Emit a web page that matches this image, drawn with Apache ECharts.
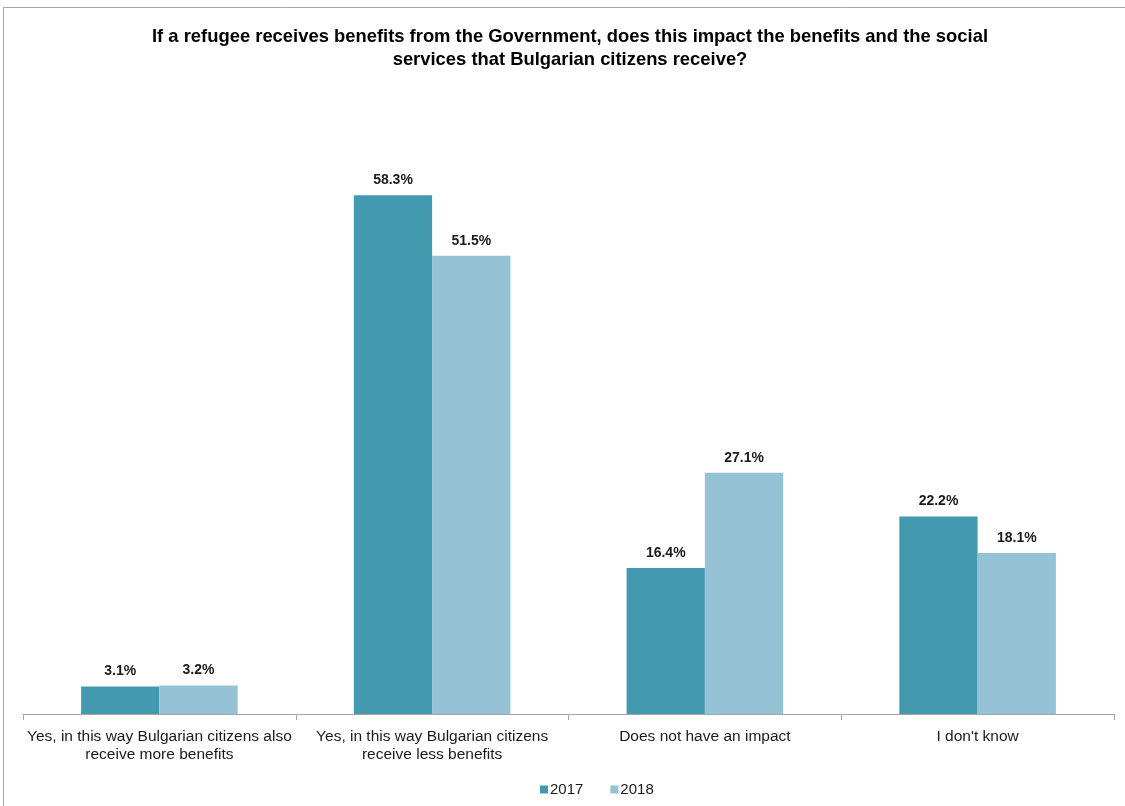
<!DOCTYPE html>
<html><head><meta charset="utf-8">
<script src="https://cdn.jsdelivr.net/npm/echarts@6/dist/echarts.min.js"></script>
<style>html,body{margin:0;padding:0;background:#fff}#c{width:1125px;height:806px}</style>
</head><body><div id="c"></div>
<script>
const categories = ["Yes, in this way Bulgarian citizens also\nreceive more benefits","Yes, in this way Bulgarian citizens\nreceive less benefits","Does not have an impact","I don't know"];
const values2017 = [3.1, 58.3, 16.4, 22.2];
const values2018 = [3.2, 51.5, 27.1, 18.1];
const seriesNames = ["2017","2018"];
const FONT = '"Liberation Sans", Arial, sans-serif';
const chart = echarts.init(document.getElementById('c'));
const lbl = {show:true, position:'top', distance:8, formatter: p => p.value.toFixed(1)+'%', fontFamily:FONT, fontWeight:'bold', fontSize:14, color:'#1a1a1a'};
chart.setOption({
  animation:false,
  backgroundColor:'#fff',
  title:{text:"If a refugee receives benefits from the Government, does this impact the benefits and the social\nservices that Bulgarian citizens receive?", left:565, textAlign:'center', top:20,
    textStyle:{fontFamily:FONT, fontWeight:'bold', fontSize:18.4, lineHeight:23, color:'#000'}},
  graphic:[
    {type:'line', shape:{x1:3,y1:7.5,x2:1125,y2:7.5}, style:{stroke:'#a6a6a6', lineWidth:1}},
    {type:'line', shape:{x1:3.5,y1:7,x2:3.5,y2:806}, style:{stroke:'#a6a6a6', lineWidth:1}}
  ],
  legend:{bottom:4, left:535, itemWidth:8, itemHeight:8, itemGap:27, icon:'rect', data:seriesNames,
    textStyle:{fontFamily:FONT, fontSize:15, color:'#1a1a1a', padding:[0,0,0,-3]}},
  grid:{left:23, right:11, top:180, bottom:92},
  xAxis:{type:'category', data:categories,
    axisLine:{lineStyle:{color:'#a6a6a6', width:1}},
    axisTick:{show:true, length:6, lineStyle:{color:'#a6a6a6'}},
    axisLabel:{interval:0, margin:14, fontFamily:FONT, fontSize:15.5, lineHeight:18, color:'#1a1a1a'}},
  yAxis:{type:'value', min:0, max:60, show:false, splitLine:{show:false}},
  series:[
    {name:seriesNames[0], type:'bar', data:values2017, barGap:'0%', barCategoryGap:'42.6%', itemStyle:{color:'#4399b0'}, label:lbl},
    {name:seriesNames[1], type:'bar', data:values2018, itemStyle:{color:'#95c3d5'}, label:lbl}
  ]
});
</script></body></html>
